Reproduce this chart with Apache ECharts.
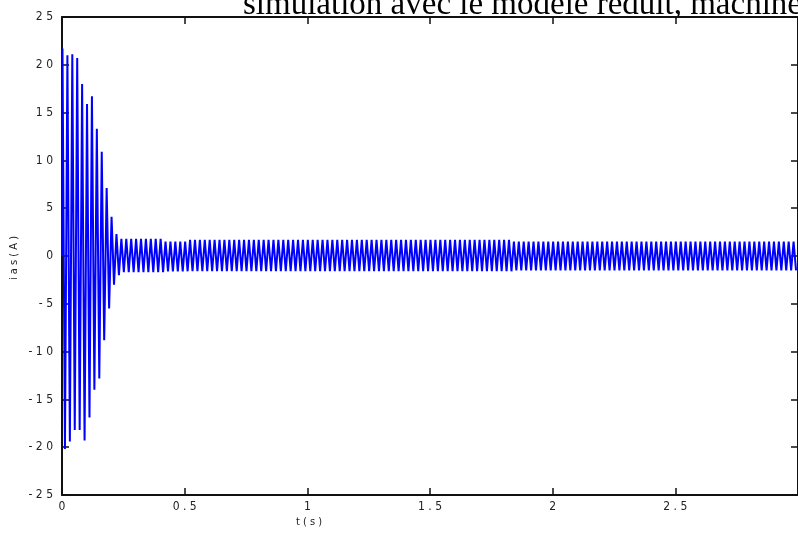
<!DOCTYPE html>
<html>
<head>
<meta charset="utf-8">
<title>ias(A)</title>
<script src="https://cdn.jsdelivr.net/npm/echarts@6/dist/echarts.min.js"></script>
<style>
  html, body { margin: 0; padding: 0; background: #fff; }
  #chart { width: 798px; height: 533px; }
</style>
</head>
<body>
<div id="chart"></div>
<script>
// peaks / troughs of each 50 Hz cycle during start-up (A)
const transientPeaks = [21.7, 21.0, 21.1, 20.7, 18.0, 15.9, 16.7, 13.3, 10.9, 7.1, 4.1, 2.3]
const transientTroughs = [-20.2, -19.4, -18.2, -18.2, -19.3, -16.9, -14.0, -12.8, -8.8, -5.5, -3.0, -2.0]
// steady state: [number of cycles, peak, trough]
const steadyRuns = [
  [9, 1.8, -1.7],
  [5, 1.5, -1.6],
  [66, 1.7, -1.6],
  [58, 1.5, -1.5]
]
const xTicks = [0, 0.5, 1, 1.5, 2, 2.5, 3]
const yTicks = [-25, -20, -15, -10, -5, 0, 5, 10, 15, 20, 25]

const period = 0.02
const firstPeak = 0.002

// build the signal from the extrema
const data = [[0, 0]]
let k = 0
const pushCycle = (p, q) => {
  data.push([+(firstPeak + period * k).toFixed(4), p])
  data.push([+(firstPeak + period * k + period / 2).toFixed(4), q])
  k++
}
transientPeaks.forEach((p, i) => pushCycle(p, transientTroughs[i]))
steadyRuns.forEach(([n, p, q]) => {
  for (let i = 0; i < n; i++) pushCycle(p, q)
})

// matlab export puts a space between every character
const spaced = (v) => String(v).split('').join(' ')

const labelFont = "'Liberation Sans Narrow', 'DejaVu Sans Condensed', 'Liberation Sans', sans-serif"
const axisColor = '#111'

const baseX = {
  type: 'value',
  min: xTicks[0],
  max: xTicks[xTicks.length - 1],
  interval: 0.5,
  splitLine: { show: false },
  axisLine: { onZero: false, lineStyle: { color: axisColor, width: 2 } },
  axisTick: { inside: true, length: 7, lineStyle: { color: axisColor, width: 1.5 } }
}
const baseY = {
  type: 'value',
  min: yTicks[0],
  max: yTicks[yTicks.length - 1],
  interval: 5,
  splitLine: { show: false },
  axisLine: { onZero: false, lineStyle: { color: axisColor, width: 2 } },
  axisTick: { inside: true, length: 7, lineStyle: { color: axisColor, width: 1.5 } }
}

const options = {
  backgroundColor: '#fff',
  animation: false,
  grid: { left: 62, top: 17, right: -7, bottom: 38 },
  xAxis: [
    {
      ...baseX,
      position: 'bottom',
      axisLabel: {
        showMaxLabel: false,
        margin: 6,
        color: '#222',
        fontSize: 12,
        fontFamily: labelFont,
        formatter: spaced
      }
    },
    { ...baseX, position: 'top', axisLabel: { show: false } }
  ],
  yAxis: [
    {
      ...baseY,
      position: 'left',
      axisLabel: {
        margin: 9,
        color: '#222',
        fontSize: 12,
        fontFamily: labelFont,
        formatter: spaced
      }
    },
    { ...baseY, position: 'right', axisLabel: { show: false } }
  ],
  graphic: [
    {
      type: 'text',
      x: 243,
      y: 22,
      style: {
        text: 'simulation avec le modèle réduit, machine',
        font: "33px 'Liberation Serif', 'Times New Roman', serif",
        fill: '#000',
        textAlign: 'left',
        textVerticalAlign: 'bottom'
      }
    },
    {
      type: 'text',
      x: 309,
      y: 522,
      style: {
        text: 't ( s )',
        font: '11px ' + labelFont,
        fill: '#222',
        textAlign: 'center',
        textVerticalAlign: 'middle'
      }
    },
    {
      type: 'text',
      x: 14,
      y: 258,
      rotation: Math.PI / 2,
      style: {
        text: 'i a s ( A )',
        font: '11px ' + labelFont,
        fill: '#222',
        textAlign: 'center',
        textVerticalAlign: 'middle'
      }
    }
  ],
  series: [
    {
      name: 'ias',
      type: 'line',
      data: data,
      showSymbol: false,
      clip: true,
      lineStyle: { color: '#0000ff', width: 2 }
    }
  ]
}

const chart = echarts.init(document.getElementById('chart'))
chart.setOption(options)
window.addEventListener('resize', () => chart.resize())
</script>
</body>
</html>
